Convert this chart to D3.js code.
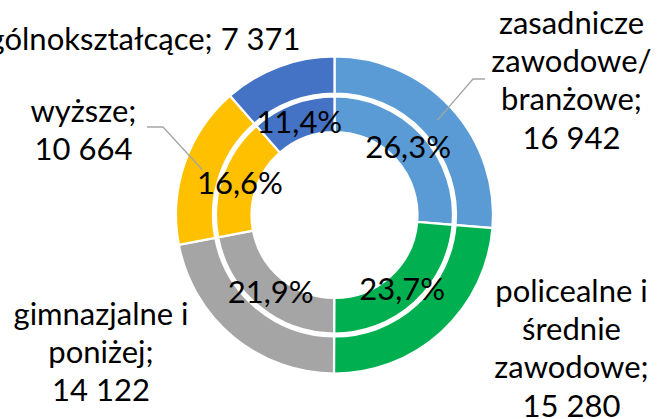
<!DOCTYPE html>
<html>
<head>
<meta charset="utf-8">
<script src="https://cdn.jsdelivr.net/npm/d3@7"></script>
<style>
  body { margin: 0; background: #fff; }
  svg { display: block; }
  text { font-family: Lato, "Open Sans", sans-serif; fill: #000; }
</style>
</head>
<body>
<svg id="chart" width="661" height="419"></svg>
<script>
// dane
var categories = ['zasadnicze zawodowe/ branżowe', 'policealne i średnie zawodowe', 'gimnazjalne i poniżej', 'wyższe', 'ogólnokształcące']
var values = [16942, 15280, 14122, 10664, 7371]
var colors = ['#5B9BD5', '#00B050', '#A5A5A5', '#FFC000', '#4472C4']
// etykiety zewnętrzne (linie tekstu)
var labelLines = [
  ['zasadnicze', 'zawodowe/', 'branżowe;', '16 942'],
  ['policealne i', 'średnie', 'zawodowe;', '15 280'],
  ['gimnazjalne i', 'poniżej;', '14 122'],
  ['wyższe;', '10 664'],
  ['ogólnokształcące; 7 371']
]

var cfg = {
  cx: 334.5, cy: 215,
  inner: [83, 118.5],
  outer: [121.5, 158.5],
  fontSize: 31,
  lineH: 38.2
}
// położenie etykiet względem środka: [dx, dy pierwszej linii, kotwica]
var labelPos = [
  { dx: 237, dy: -181, anchor: 'middle', leader: [[150.5, -136], [138.5, -136]] },
  { dx: 237, dy: 87, anchor: 'middle' },
  { dx: -233.5, dy: 110, anchor: 'middle' },
  { dx: -251, dy: -93, anchor: 'middle', leader: [[-187.5, -88], [-171.5, -88]] },
  { dx: -34, dy: -165, anchor: 'end' }
]

var svg = d3.select('#chart')
var g = svg.append('g').attr('transform', 'translate(' + cfg.cx + ',' + cfg.cy + ')')

var total = d3.sum(values)
var pie = d3.pie().sort(null).value(function(d){ return d })
var arcs = pie(values)

var arcIn = d3.arc().innerRadius(cfg.inner[0]).outerRadius(cfg.inner[1])
var arcOut = d3.arc().innerRadius(cfg.outer[0]).outerRadius(cfg.outer[1])
var arcOutMid = d3.arc().innerRadius(140).outerRadius(140)

function ring(gen, cls){
  g.selectAll('.' + cls)
    .data(arcs)
    .enter()
    .append('path')
    .attr('class', cls)
    .attr('d', gen)
    .attr('fill', function(d, i){ return colors[i] })
    .attr('stroke', '#fff')
    .attr('stroke-width', 2.2)
}
ring(arcOut, 'outer')
ring(arcIn, 'inner')

// procenty na wewnętrznym pierścieniu
var fmt = function(v){ return d3.format('.1f')(v * 100).replace('.', ',') + '%' }
var arcLbl = d3.arc().innerRadius(100).outerRadius(100)
g.selectAll('.pct')
  .data(arcs)
  .enter()
  .append('text')
  .attr('class', 'pct')
  .attr('x', function(d){ return arcLbl.centroid(d)[0] })
  .attr('y', function(d){ return arcLbl.centroid(d)[1] })
  .attr('dy', '0.36em')
  .attr('text-anchor', 'middle')
  .style('font-size', cfg.fontSize + 'px')
  .text(function(d){ return fmt(d.value / total) })

// linie odniesienia
arcs.forEach(function(d, i){
  var p = labelPos[i]
  if(!p.leader) return
  var c = arcOutMid.centroid(d)
  var pts = [p.leader[0], p.leader[1], c]
  g.append('path')
    .attr('d', d3.line()(pts))
    .attr('fill', 'none')
    .attr('stroke', '#A6A6A6')
    .attr('stroke-width', 1.3)
})

// etykiety zewnętrzne
labelLines.forEach(function(lines, i){
  var p = labelPos[i]
  var t = g.append('text')
    .attr('text-anchor', p.anchor)
    .style('font-size', cfg.fontSize + 'px')
  lines.forEach(function(s, j){
    t.append('tspan')
      .attr('x', p.dx)
      .attr('y', p.dy + j * cfg.lineH)
      .text(s)
  })
})
</script>
</body>
</html>
